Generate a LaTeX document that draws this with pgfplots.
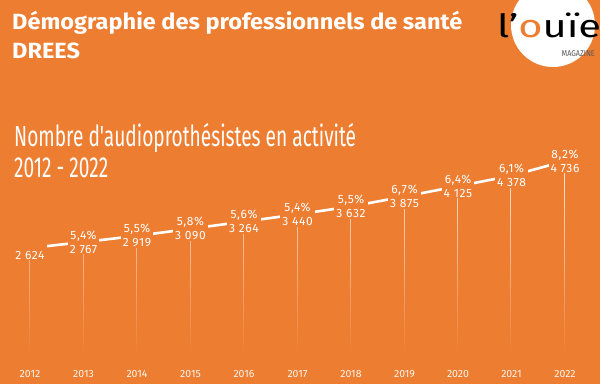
\documentclass[border=0pt]{standalone}
\usepackage{fontspec}
\setmainfont{Fira Sans}
\newfontfamily\titlefont[FakeStretch=1.07]{Fira Sans}
\newfontfamily\condfont[FakeStretch=0.66]{Fira Sans}
\newfontfamily\labfont[LetterSpace=5]{Fira Sans}
\newfontfamily\logofont[FakeStretch=1.3]{Fira Sans}
\newfontfamily\magfont[FakeStretch=0.85]{Fira Sans}
\usepackage{pgfplots}
\pgfplotsset{compat=1.18}
\usetikzlibrary{fadings}
\definecolor{bg}{RGB}{237,125,49}
\tikzfading[name=fadedown, top color=transparent!0, bottom color=transparent!100]

\begin{document}
\begin{tikzpicture}
\useasboundingbox (0,0) rectangle (600pt,384pt);
\clip (0,0) rectangle (600pt,384pt);
\fill[bg] (0,0) rectangle (600pt,384pt);
% title
\node[anchor=base west, inner sep=0, text=white, font=\fontsize{22}{25}\titlefont\bfseries] at (12pt,355pt) {Démographie des professionnels de santé};
\node[anchor=base west, inner sep=0, text=white, font=\fontsize{22}{25}\titlefont\bfseries] at (12pt,326pt) {DREES};
% logo
\fill[white] (553pt,359pt) circle (42pt);
\node[anchor=base west, inner sep=0, font=\fontsize{32}{32}\logofont] at (497pt,347pt) {l’\textcolor{bg}{o}uïe};
\node[anchor=base east, inner sep=0, font=\fontsize{8.5}{9}\magfont, text=black!65] at (595pt,328pt) {MAGAZINE};
% subtitle
\node[anchor=base west, inner sep=0, text=white, font=\fontsize{29}{30}\condfont] at (14pt,238pt) {Nombre d'audioprothésistes en activité};
\node[anchor=base west, inner sep=0, text=white, font=\fontsize{29}{30}\condfont] at (14pt,207pt) {2012 - 2022};

\begin{axis}[at={(30pt,28pt)}, anchor=south west, scale only axis,
  width=535pt, height=195pt, xmin=2012, xmax=2022, ymin=0, ymax=4736,
  clip=false, axis line style={draw=none}, ytick=\empty,
  xtick={2012,2013,2014,2015,2016,2017,2018,2019,2020,2021,2022},
  xticklabels={2012,2013,2014,2015,2016,2017,2018,2019,2020,2021,2022},
  major tick length=0pt,
  xticklabel style={text=white!92!bg, font=\fontsize{10.5}{12}\selectfont, yshift=-11pt}]
\addplot[ycomb, draw=white!85!bg, line width=0.8pt, path fading=fadedown] coordinates {
(2012,2624) (2013,2767) (2014,2919) (2015,3090) (2016,3264) (2017,3440)
(2018,3632) (2019,3875) (2020,4125) (2021,4378) (2022,4736)};
\addplot[white, line width=2.6pt, nodes near coords, point meta=explicit symbolic,
  every node near coord/.style={anchor=center, align=center, fill=bg, text=white,
    inner xsep=2pt, inner ysep=1pt, font=\fontsize{12}{14}\labfont}] coordinates {
(2012,2624) [\phantom{5,4\%}\\2 624]
(2013,2767) [5,4\%\\2 767]
(2014,2919) [5,5\%\\2 919]
(2015,3090) [5,8\%\\3 090]
(2016,3264) [5,6\%\\3 264]
(2017,3440) [5,4\%\\3 440]
(2018,3632) [5,5\%\\3 632]
(2019,3875) [6,7\%\\3 875]
(2020,4125) [6,4\%\\4 125]
(2021,4378) [6,1\%\\4 378]
(2022,4736) [8,2\%\\4 736]};
\end{axis}
\end{tikzpicture}
\end{document}
